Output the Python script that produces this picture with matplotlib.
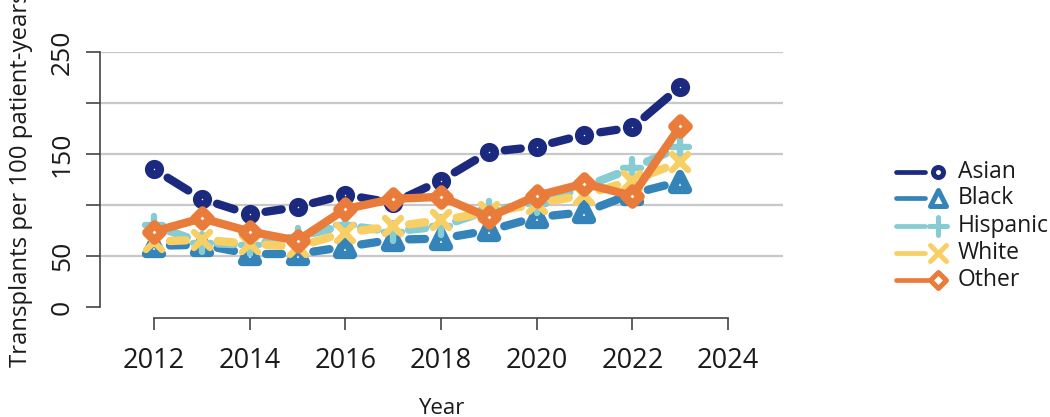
#
# Transplant rate by race/ethnicity, 2012-2023
#

import numpy as np
import matplotlib.pyplot as plt
from matplotlib.lines import Line2D
from matplotlib.markers import MarkerStyle

plt.rcParams["font.family"] = ["Open Sans", "DejaVu Sans"]

years = list(range(2012, 2024))
asian = [135, 106, 91, 98, 110, 102, 124, 152, 157, 169, 176, 216]
black = [60, 61, 52, 52, 59, 66, 67, 75, 88, 93, 111, 123]
hispanic = [80, 63, 61, 69, 80, 74, 79, 95, 101, 118, 136, 157]
white = [64, 66, 62, 59, 73, 79, 85, 93, 101, 110, 124, 142]
other = [74, 87, 74, 65, 96, 106, 108, 88, 109, 121, 109, 177]

labels = ["Asian", "Black", "Hispanic", "White", "Other"]
series = [asian, black, hispanic, white, other]
colors = ["#1b2a7f", "#3584b9", "#86ccd3", "#f8cf64", "#e97c3a"]
# marker, marker size (pt), edge width (pt), lines broken around points?
mk = [("o", 7.6, 6.2, True), ("^", 11.5, 6.0, True), ("+", 13.5, 4.6, True),
      ("x", 11.5, 4.6, True), ("D", 8.6, 6.2, False)]

W, H = 1050, 417
fig = plt.figure(figsize=(W / 100, H / 100), dpi=100)
ax = fig.add_axes([100 / W, 1 - 318 / H, 683 / W, 266 / H])
ax.set_xlim(2010.871, 2025.15)
ax.set_ylim(-10.8, 250)

for s in ["top", "right"]:
    ax.spines[s].set_visible(False)
ax.spines["left"].set_bounds(0, 250)
ax.spines["bottom"].set_bounds(2012, 2024)
for s in ["left", "bottom"]:
    ax.spines[s].set_color("#444444")
    ax.spines[s].set_linewidth(1.2)

ax.set_xticks(range(2012, 2025, 2))
ax.set_yticks([0, 50, 100, 150, 200, 250])
ax.set_yticklabels(["0", "50", "", "150", "", "250"], rotation=90, va="center")
ax.tick_params(axis="x", length=8.6, width=1.2, color="#444444", pad=12.5,
               labelsize=19.5, labelcolor="#1a1a1a")
ax.tick_params(axis="y", length=10, width=1.2, color="#444444", pad=8,
               labelsize=19, labelcolor="#1a1a1a")

for v in [50, 100, 150, 200, 250]:
    ax.axhline(v, color="#c8c8c8", lw=1.6, zorder=0)

lw = 6.0
gap = 16  # pixels from point centre to segment end


def gap_line(x, y, color, z):
    pts = ax.transData.transform(np.column_stack([x, y]))
    inv = ax.transData.inverted()
    for p0, p1 in zip(pts[:-1], pts[1:]):
        d = p1 - p0
        L = np.hypot(d[0], d[1])
        if L <= 2 * gap:
            continue
        u = d / L
        seg = inv.transform(np.array([p0 + u * gap, p1 - u * gap]))
        ax.plot(seg[:, 0], seg[:, 1], color=color, lw=lw,
                solid_capstyle="round", zorder=z)


for i, (vals, col, (m, ms, mew, broken)) in enumerate(zip(series, colors, mk)):
    z = 3 + i
    style = MarkerStyle(m, joinstyle="round", capstyle="round")
    if broken:
        gap_line(years, vals, col, z)
    else:
        ax.plot(years, vals, color=col, lw=lw, solid_joinstyle="round",
                solid_capstyle="round", zorder=z)
    ax.plot(years, vals, linestyle="none", marker=style, ms=ms, mew=mew,
            mec=col, mfc="white", zorder=z + 0.5, clip_on=False)

# legend, drawn by hand in R style
rows = [172, 198, 226, 253, 280]


def fx(px):
    return px / W


def fy(py):
    return 1 - py / H


for lab, col, (m, ms, mew, broken), r in zip(labels, colors, mk, rows):
    x1 = 924.5 if broken else 938
    fig.add_artist(Line2D([fx(895.5), fx(x1)], [fy(r), fy(r)], color=col,
                          lw=3.4, solid_capstyle="round"))
    style = MarkerStyle(m, joinstyle="round", capstyle="round")
    fig.add_artist(Line2D([fx(938)], [fy(r)], linestyle="none", marker=style,
                          ms=ms * 0.95, mew=3.6, mec=col, mfc="white"))
    fig.text(fx(958), fy(r), lab, fontsize=16.5, va="center", ha="left",
             color="#1a1a1a")

fig.text(fx(441), fy(414), "Year", fontsize=16, ha="center", va="baseline",
         color="#1a1a1a")
fig.text(fx(27), fy(367), "Transplants per 100 patient-years", fontsize=17.2,
         rotation=90, rotation_mode="anchor", ha="left", va="baseline",
         color="#1a1a1a")

fig.savefig("out.png", dpi=100)
